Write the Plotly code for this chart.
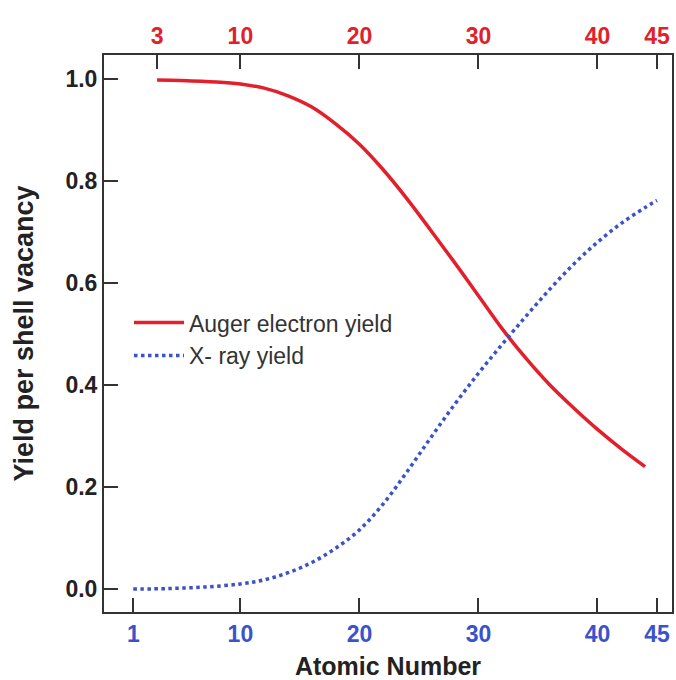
import plotly.graph_objects as go

# Data
z_auger = [3, 5, 8, 10, 12, 14, 16, 18, 20, 22, 24, 26, 28, 30, 32, 34, 36, 38, 40, 42, 44]
auger = [0.998, 0.997, 0.994, 0.990, 0.982, 0.967, 0.945, 0.912, 0.872, 0.822, 0.765,
         0.703, 0.640, 0.575, 0.510, 0.452, 0.400, 0.355, 0.313, 0.275, 0.240]

z_xray = [1, 4, 7, 10, 12, 14, 16, 18, 20, 22, 24, 26, 28, 30, 32, 34, 36, 38, 40, 42, 44, 45]
xray = [0.000, 0.001, 0.004, 0.010, 0.018, 0.032, 0.052, 0.080, 0.116, 0.167, 0.230,
        0.297, 0.362, 0.423, 0.480, 0.535, 0.588, 0.637, 0.680, 0.717, 0.748, 0.762]

bottom_ticks = [1, 10, 20, 30, 40, 45]
top_ticks = [3, 10, 20, 30, 40, 45]
y_ticks = [0.0, 0.2, 0.4, 0.6, 0.8, 1.0]
y_ticktext = ["0.0", "0.2", "0.4", "0.6", "0.8", "1.0"]

RED = "#e2202c"
BLUE = "#3a52cc"
AX = "#333333"
FONT = "Liberation Sans, Arial, Helvetica, sans-serif"

fig = go.Figure()
fig.add_trace(go.Scatter(x=z_auger, y=auger, mode="lines", name="Auger electron yield",
                         line=dict(color=RED, width=3.5, shape="spline")))
fig.add_trace(go.Scatter(x=z_xray, y=xray, mode="lines", name="X- ray yield",
                         line=dict(color=BLUE, width=3.5, dash="dot", shape="spline")))

xr = [-1.46, 46.26]
fig.update_layout(
    width=676, height=680,
    margin=dict(l=104, r=2, t=55, b=68),
    paper_bgcolor="white", plot_bgcolor="white",
    font=dict(family=FONT, color="#222222"),
    showlegend=True,
    legend=dict(x=0.044, y=0.49, xanchor="left", yanchor="middle",
                bgcolor="rgba(0,0,0,0)", borderwidth=0, itemwidth=50,
                font=dict(family=FONT, size=23, color="#333333")),
    xaxis=dict(range=xr, tickvals=bottom_ticks, ticks="inside", ticklen=14, tickwidth=2,
               tickcolor=AX, showline=True, linecolor=AX, linewidth=2, mirror=False,
               showgrid=False, zeroline=False,
               tickfont=dict(family=FONT, size=23, color=BLUE, weight="bold"),
               title=dict(text="Atomic Number", standoff=12,
                          font=dict(family=FONT, size=25, color="#222222", weight="bold"))),
    xaxis2=dict(range=xr, overlaying="x", side="top", anchor="y", tickvals=top_ticks,
                ticks="inside", ticklen=14, tickwidth=2, tickcolor=AX, showline=True,
                linecolor=AX, linewidth=2, showgrid=False, zeroline=False,
                tickfont=dict(family=FONT, size=23, color=RED, weight="bold")),
    yaxis=dict(range=[-0.045, 1.047], tickvals=y_ticks, ticktext=y_ticktext,
               ticks="inside", ticklen=14, tickwidth=2, tickcolor=AX, showline=True,
               linecolor=AX, linewidth=2, mirror=True, showgrid=False, zeroline=False,
               tickfont=dict(family=FONT, size=23, color="#222222", weight="bold"),
               title=dict(text="Yield per shell vacancy", standoff=24,
                          font=dict(family=FONT, size=27, color="#222222", weight="bold"))),
)
# invisible trace to activate the top axis
fig.add_trace(go.Scatter(x=[None], y=[None], xaxis="x2", showlegend=False, hoverinfo="skip"))

fig.write_html("out.html")
